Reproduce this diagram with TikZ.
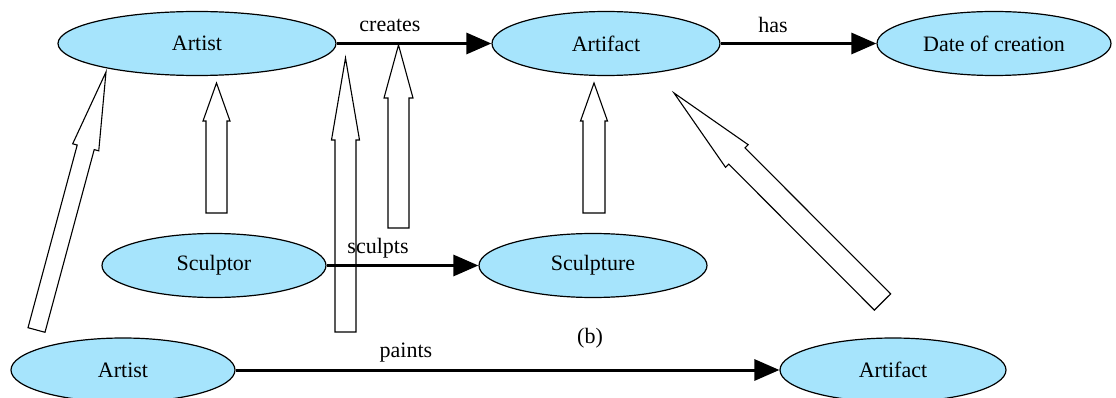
\documentclass[tikz,border=0pt]{standalone}
\usepackage{fontspec}
\setmainfont{Liberation Serif}
\usetikzlibrary{shapes.geometric,arrows.meta,calc}
\definecolor{conceptfill}{RGB}{166,228,252}

% hollow block arrow from #1 (tail) to #2 (tip):
% #3 shaft half-width, #4 head half-width, #5 head length
\newcommand\hollowarrow[5]{%
  \coordinate (hb) at ($(#2)!#5!(#1)$);
  \draw[isalink]
    ($(#1)!#3!90:(#2)$) -- ($(hb)!#3!90:(#2)$) -- ($(hb)!#4!90:(#2)$) --
    (#2) --
    ($(hb)!#4!-90:(#2)$) -- ($(hb)!#3!-90:(#2)$) -- ($(#1)!#3!-90:(#2)$) -- cycle;}

\begin{document}
\begin{tikzpicture}[x=1pt,y=-1pt,
  font=\fontsize{22}{26}\selectfont,
  concept/.style={ellipse, draw=black, line width=1.2pt, fill=conceptfill,
    inner sep=0pt, minimum width=2*#1, minimum height=64pt},
  relation/.style={line width=3pt, -{Triangle[length=25pt,width=21pt]}},
  rellabel/.style={inner sep=0pt},
  isalink/.style={draw=black, line width=1.1pt, line join=miter}]
\useasboundingbox (0,0) rectangle (1116,398);

% concepts
\node[concept=139pt] (artist)    at (197,43.5)  {Artist};
\node[concept=114pt] (artifact)  at (606,43.5)  {Artifact};
\node[concept=117pt] (date)      at (994,43.5)  {Date of creation};
\node[concept=112pt] (sculptor)  at (214,265.5) {Sculptor};
\node[concept=114pt] (sculpture) at (593,265.5) {Sculpture};
\node[concept=112pt] (artistb)   at (123,370)   {Artist};
\node[concept=113pt] (artifactb) at (893,370)   {Artifact};

% relations
\draw[relation] (artist.east)    -- (artifact.west);
\draw[relation] (artifact.east)  -- (date.west);
\draw[relation] (sculptor.east)  -- (sculpture.west);
\draw[relation] (artistb.east)   -- (artifactb.west);

\node[rellabel] (lcreates) at (390,25)  {creates};
\node[rellabel] (lhas)     at (773,24.5) {has};
\node[rellabel] (lsculpts) at (378,248) {sculpts};
\node[rellabel] (lpaints)  at (406,353) {paints};
\node[rellabel] (lb)       at (590,338) {(b)};

% specialisation links
\coordinate (a1s) at (36.5,330);  \coordinate (a1t) at (106,72);
\coordinate (a2s) at (216.5,213); \coordinate (a2t) at (216.5,83);
\coordinate (a3s) at (345.5,332); \coordinate (a3t) at (345.5,58);
\coordinate (a4s) at (398.5,228); \coordinate (a4t) at (398.5,45);
\coordinate (a5s) at (594,213);   \coordinate (a5t) at (594,83);
\coordinate (a6s) at (882.5,302); \coordinate (a6t) at (674,93);

\hollowarrow{a1s}{a1t}{8.8pt}{13.5pt}{78pt}
\hollowarrow{a2s}{a2t}{10.5pt}{13.5pt}{38pt}
\hollowarrow{a3s}{a3t}{10.5pt}{14pt}{82pt}
\hollowarrow{a4s}{a4t}{10.5pt}{14.5pt}{53pt}
\hollowarrow{a5s}{a5t}{11pt}{13.5pt}{38pt}
\hollowarrow{a6s}{a6t}{11.5pt}{16pt}{89pt}
\end{tikzpicture}
\end{document}
